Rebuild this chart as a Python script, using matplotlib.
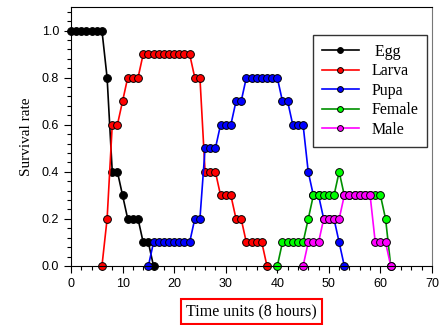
import matplotlib
matplotlib.use('Agg')
import matplotlib.pyplot as plt
from matplotlib.ticker import MultipleLocator

# survival rate per time unit (8 hours)
egg_x = list(range(0, 17))
egg_y = [1.0, 1.0, 1.0, 1.0, 1.0, 1.0, 1.0, 0.8, 0.4, 0.4, 0.3, 0.2, 0.2, 0.2, 0.1, 0.1, 0.0]

larva_x = list(range(6, 39))
larva_y = [0.0, 0.2, 0.6, 0.6, 0.7, 0.8, 0.8, 0.8,
           0.9, 0.9, 0.9, 0.9, 0.9, 0.9, 0.9, 0.9, 0.9, 0.9,
           0.8, 0.8, 0.4, 0.4, 0.4, 0.3, 0.3, 0.3, 0.2, 0.2,
           0.1, 0.1, 0.1, 0.1, 0.0]

pupa_x = list(range(15, 54))
pupa_y = [0.0, 0.1, 0.1, 0.1, 0.1, 0.1, 0.1, 0.1, 0.1, 0.2, 0.2,
          0.5, 0.5, 0.5, 0.6, 0.6, 0.6, 0.7, 0.7,
          0.8, 0.8, 0.8, 0.8, 0.8, 0.8, 0.8, 0.7, 0.7,
          0.6, 0.6, 0.6, 0.4, 0.3, 0.3, 0.2, 0.2, 0.2, 0.1, 0.0]

female_x = list(range(40, 63))
female_y = [0.0, 0.1, 0.1, 0.1, 0.1, 0.1, 0.2, 0.3, 0.3, 0.3, 0.3, 0.3,
            0.4, 0.3, 0.3, 0.3, 0.3, 0.3, 0.3, 0.3, 0.3, 0.2, 0.0]

male_x = list(range(45, 63))
male_y = [0.0, 0.1, 0.1, 0.1, 0.2, 0.2, 0.2, 0.2,
          0.3, 0.3, 0.3, 0.3, 0.3, 0.3, 0.1, 0.1, 0.1, 0.0]

series = [
    (' Egg', egg_x, egg_y, 'black', 'black'),
    ('Larva', larva_x, larva_y, 'red', 'red'),
    ('Pupa', pupa_x, pupa_y, 'blue', 'blue'),
    ('Female', female_x, female_y, '#009000', '#00ff00'),
    ('Male', male_x, male_y, 'magenta', 'magenta'),
]

fig = plt.figure(figsize=(4.4, 3.25), dpi=100)
ax = fig.add_axes([71 / 440, 59 / 325, 361 / 440, 259 / 325])

for name, xs, ys, lc, fc in series:
    ax.plot(xs, ys, color=lc, lw=1.2, marker='o', ms=5.6, mfc=fc, mec='black',
            mew=0.7, label=name, clip_on=False)

ax.set_xlim(0, 70)
ax.set_ylim(0, 1.1)
ax.set_yticks([0.0, 0.2, 0.4, 0.6, 0.8, 1.0])
ax.xaxis.set_major_locator(MultipleLocator(10))
ax.xaxis.set_minor_locator(MultipleLocator(2))
ax.yaxis.set_minor_locator(MultipleLocator(0.04))
ax.tick_params(which='major', length=5, width=0.8, labelsize=9, direction='out')
ax.tick_params(which='minor', length=3, width=0.8, direction='out')
for lab in ax.get_xticklabels() + ax.get_yticklabels():
    lab.set_family('Liberation Sans')
ax.yaxis.set_major_formatter(matplotlib.ticker.FormatStrFormatter('%.1f'))
ax.spines['right'].set_color('#777777')

ax.set_ylabel('Survival rate', family='Liberation Serif', fontsize=11, labelpad=6)
ax.set_xlabel('Time units (8 hours)', family='Liberation Serif', fontsize=11.5, labelpad=10,
              bbox=dict(boxstyle='square,pad=0.3', fc='white', ec='red', lw=1.5))

leg = ax.legend(loc='upper left', bbox_to_anchor=(313 / 440, 1 - 35 / 325),
                bbox_transform=fig.transFigure, borderaxespad=0, fancybox=False,
                prop={'family': 'Liberation Serif', 'size': 11.5}, labelspacing=0.22,
                handlelength=2.3, markerscale=0.75, framealpha=1, borderpad=0.55)
leg.get_frame().set_edgecolor('#333333')
leg.get_frame().set_linewidth(1.0)

fig.savefig('out.png', dpi=100)
